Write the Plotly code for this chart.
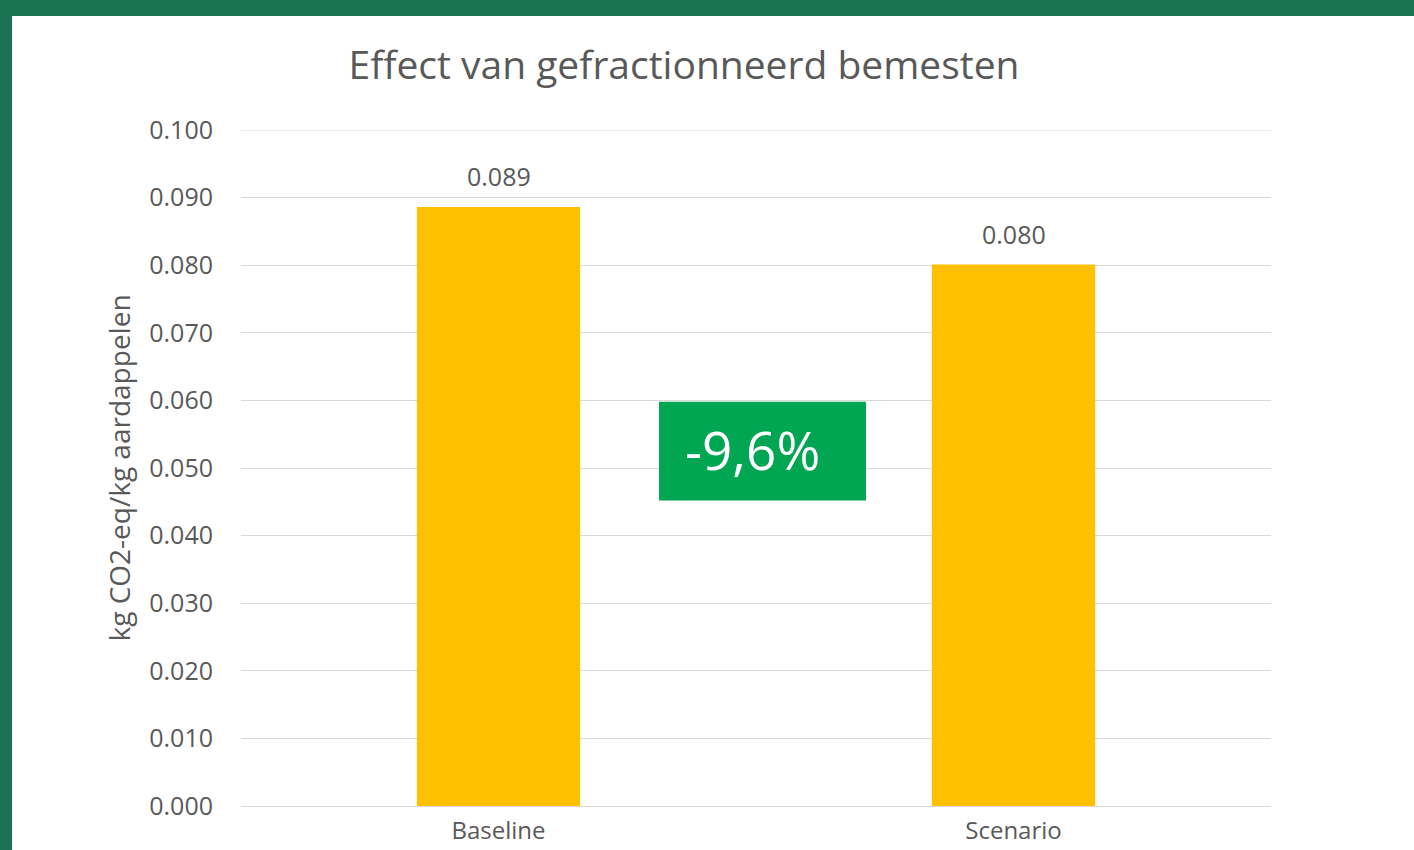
import plotly.graph_objects as go

categories = ["Baseline", "Scenario"]
values = [0.0886, 0.0801]
change_label = "-9,6%"
box_range = [0.0452, 0.0598]

title = "Effect van gefractionneerd bemesten"
y_title = "kg CO2-eq/kg aardappelen"
y_ticks = [0.0, 0.01, 0.02, 0.03, 0.04, 0.05, 0.06, 0.07, 0.08, 0.09, 0.10]

FONT = "Open Sans"
TXT = "#595959"
GRID = "#D9D9D9"
W, H = 1414, 850
ml, mr, mt, mb = 241, 143, 130, 44
pw, ph = W - ml - mr, H - mt - mb

def px_x(p):
    return (p - ml) / pw

def px_y(p):
    return (H - mb - p) / ph

fig = go.Figure()
fig.add_trace(go.Bar(
    x=categories, y=values,
    marker=dict(color="#FFC000", line=dict(width=0)),
    width=0.317,
    hoverinfo="x+y",
))

for c, v in zip(categories, values):
    fig.add_annotation(x=c, y=v, text=f"{v:.3f}", showarrow=False,
                       yshift=31, yanchor="middle",
                       font=dict(family=FONT, size=25, color=TXT))

# white chart panel over green frame
fig.add_shape(type="rect", xref="paper", yref="paper",
              x0=px_x(12), x1=px_x(1430), y0=px_y(870), y1=px_y(16),
              fillcolor="white", line=dict(width=0), layer="below")

# top gridline at the range edge
fig.add_shape(type="line", xref="paper", yref="y", x0=0, x1=1,
              y0=y_ticks[-1], y1=y_ticks[-1],
              line=dict(color=GRID, width=1), layer="below")

# green change box
fig.add_shape(type="rect", xref="paper", yref="y",
              x0=px_x(659), x1=px_x(866), y0=box_range[0], y1=box_range[1],
              fillcolor="#00A651", line=dict(width=0), layer="above")
fig.add_annotation(xref="paper", yref="y", x=(px_x(659) + px_x(866)) / 2,
                   y=(box_range[0] + box_range[1]) / 2,
                   xshift=-10, yshift=2,
                   text=change_label, showarrow=False,
                   font=dict(family=FONT, size=53, color="white"))

fig.update_layout(
    width=W, height=H,
    margin=dict(l=ml, r=mr, t=mt, b=mb, pad=0, autoexpand=False),
    paper_bgcolor="#1A7352", plot_bgcolor="rgba(0,0,0,0)",
    showlegend=False,
    title=dict(text=title, x=px_x(684), xanchor="center", xref="paper",
               y=1 - 65 / H, yanchor="middle",
               font=dict(family=FONT, size=39, color=TXT)),
)
fig.update_yaxes(range=[0, 0.1], tickvals=y_ticks, tickformat=".3f",
                 automargin=False,
                 showgrid=True, gridcolor=GRID, gridwidth=1,
                 zeroline=True, zerolinecolor=GRID, zerolinewidth=1,
                 showline=False, ticks="outside", ticklen=22,
                 tickcolor="rgba(0,0,0,0)",
                 tickfont=dict(family=FONT, size=25, color=TXT),
                 title=dict(text=y_title, standoff=10,
                            font=dict(family=FONT, size=28, color=TXT)))
fig.update_xaxes(showgrid=False, showline=False, ticks="outside", ticklen=3,
                 automargin=False,
                 tickcolor="rgba(0,0,0,0)",
                 tickfont=dict(family=FONT, size=24, color=TXT))

fig.write_html("out.html", config={"displayModeBar": False},
               post_script="document.body.style.margin='0';")
